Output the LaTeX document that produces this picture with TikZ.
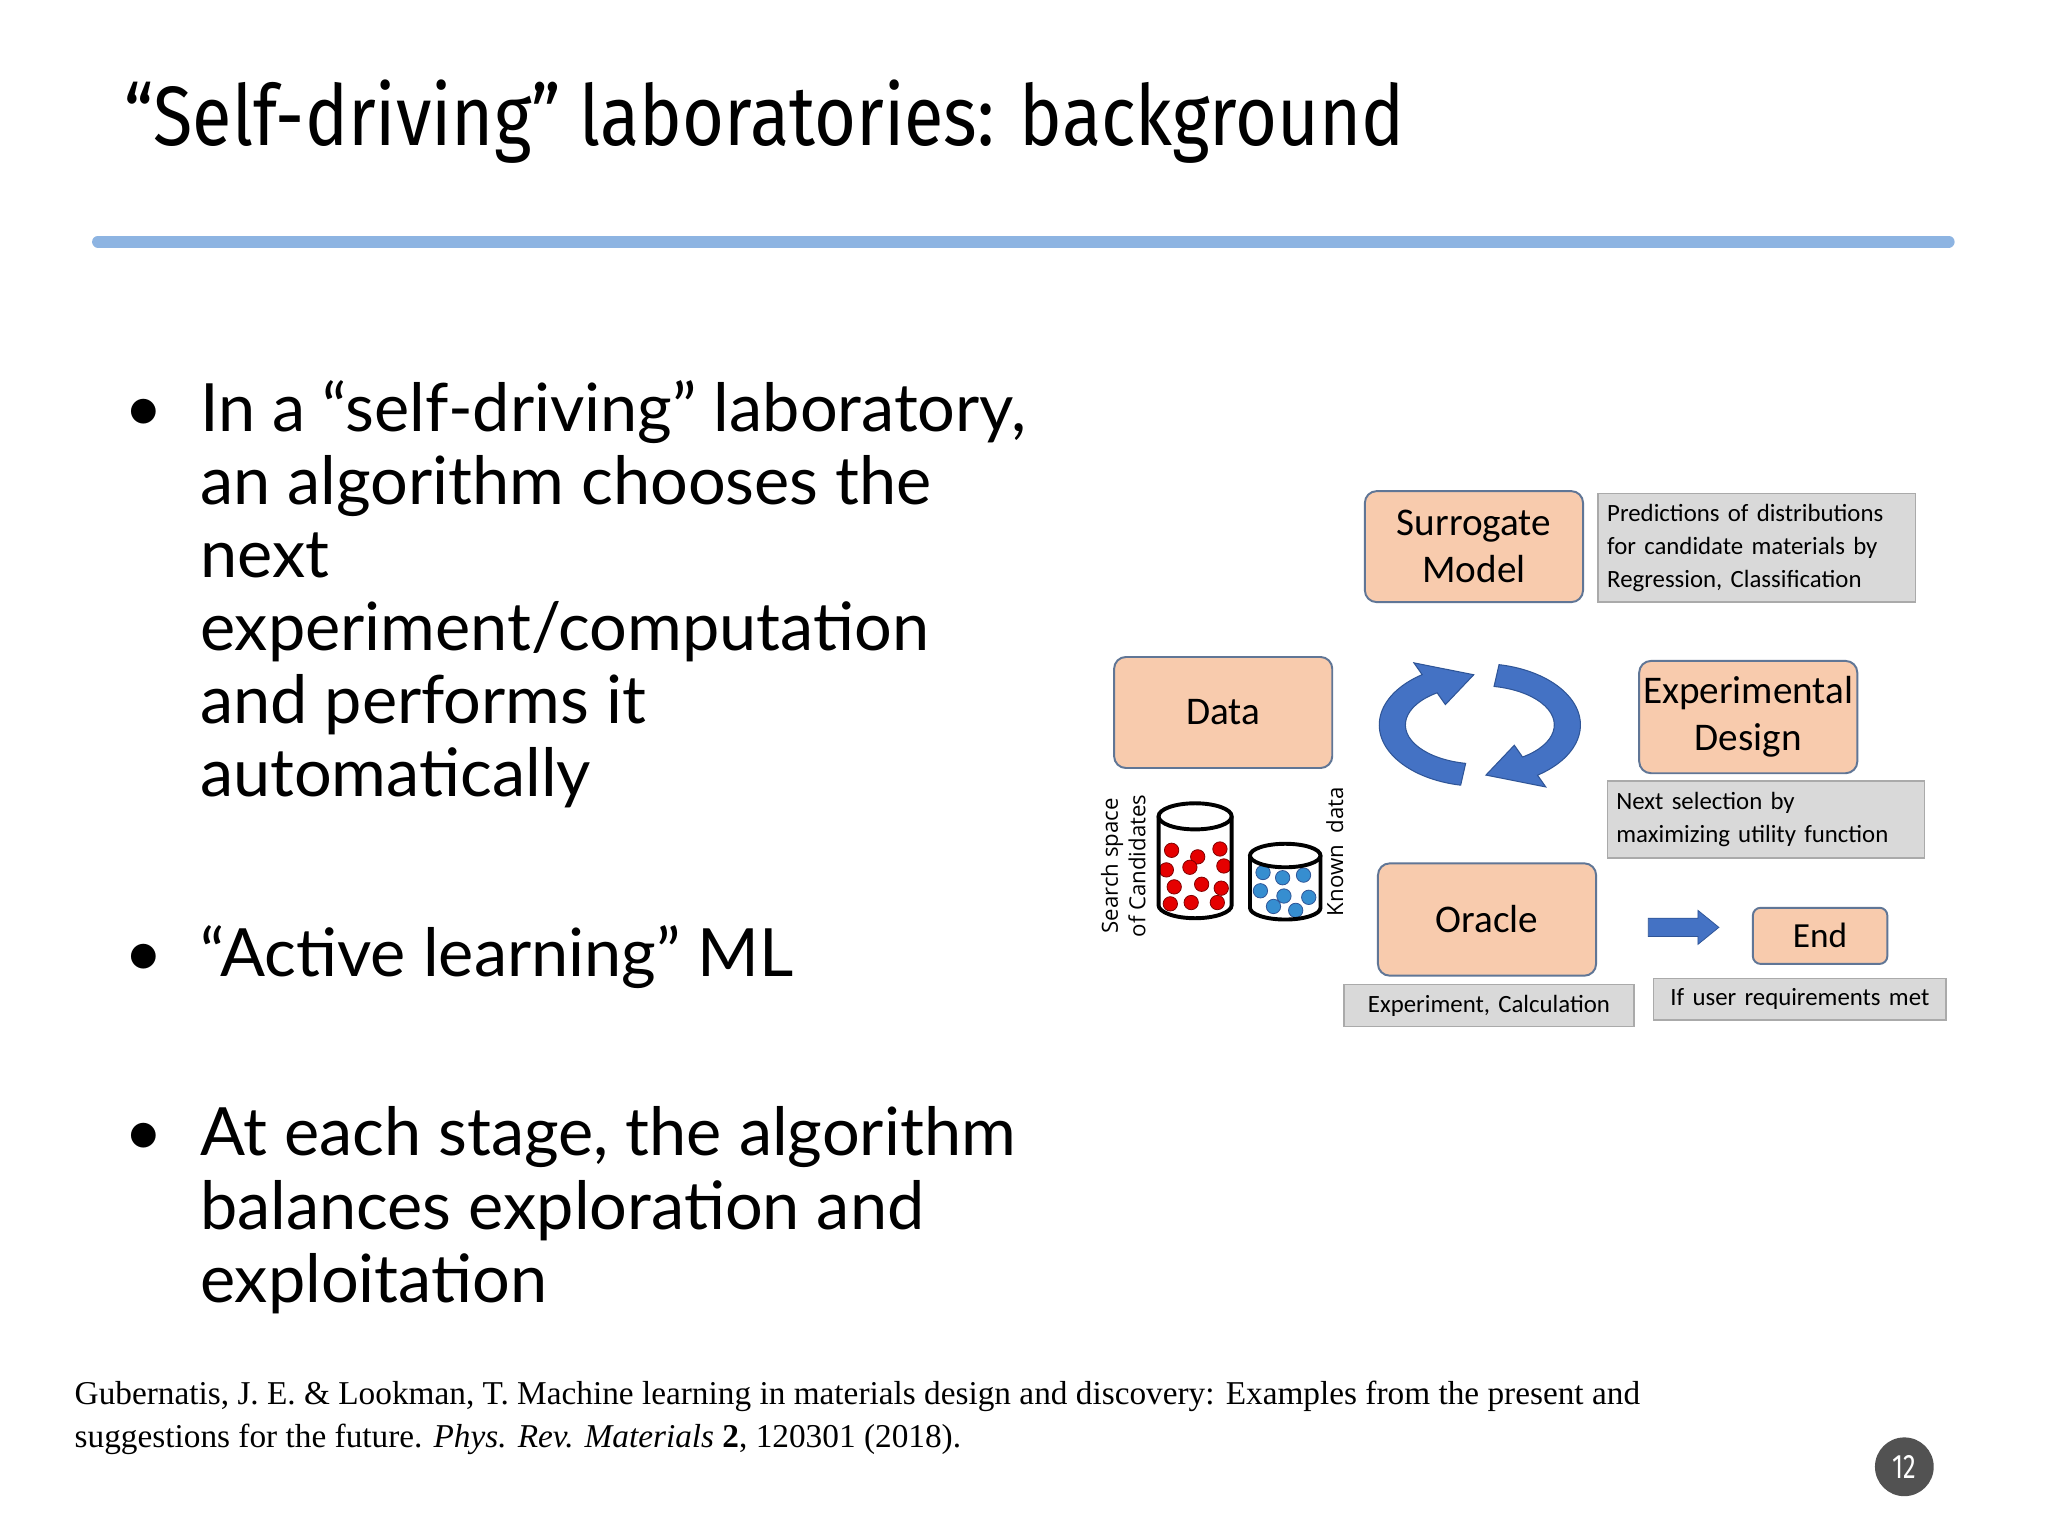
\documentclass[tikz,border=0pt]{standalone}
\usepackage{fontspec}
\usepackage{graphicx}
\setmainfont{Lato}
\newfontfamily\titlefont{Fira Sans}
\newfontfamily\calfont{Carlito}
\newfontfamily\citefont{Liberation Serif}
\newfontfamily\smallsans{Open Sans}
\usetikzlibrary{calc}
\definecolor{peach}{RGB}{248,203,173}
\definecolor{boxedge}{RGB}{96,118,150}
\definecolor{graybox}{RGB}{217,217,217}
\definecolor{grayedge}{RGB}{170,170,170}
\definecolor{linecol}{RGB}{141,180,226}
\definecolor{arrblue}{RGB}{68,114,196}
\definecolor{arrdark}{RGB}{47,85,151}
\tikzset{
  pbox/.style={draw=boxedge,line width=1.5pt,fill=peach,rounded corners=9pt,font=\calfont\fontsize{30}{36}\selectfont,align=center,inner sep=0pt},
  gbox/.style={draw=grayedge,line width=1pt,fill=graybox,font=\calfont\fontsize{19}{25}\selectfont,align=left,inner sep=0pt,text width=#1},
  bul/.style={anchor=base west,font=\fontsize{51}{56}\selectfont,inner sep=0pt},
  reddot/.style={circle,fill=red!90!black,draw=red!50!black,line width=0.6pt,inner sep=0pt,minimum size=11pt},
  bluedot/.style={circle,fill=arrblue!80!cyan,draw=arrdark,line width=0.6pt,inner sep=0pt,minimum size=11pt},
  cyl/.style={draw=black,line width=3pt},
}
\begin{document}
\begin{tikzpicture}[x=1pt,y=-1pt]
\useasboundingbox[fill=white] (0,0) rectangle (1568,1176);
% title
\node[anchor=south west,inner sep=0pt] (title) at (95,125) {\resizebox*{980pt}{64pt}{\titlefont “Self-driving” laboratories: background}};
\draw[linecol,line width=9pt,line cap=round] (75,185) coordinate (l1) -- (1492,185) coordinate (l2);
% bullets
\node[bul] (b1d) at (95,330) {•};
\node[bul] (b1) at (153,330) {\parbox[t]{700pt}{\raggedright In a “self-driving” laboratory,\\an algorithm chooses the\\next\\experiment/computation\\and performs it\\automatically}};
\node[bul] (b2d) at (95,748) {•};
\node[bul] (b2) at (153,748) {“Active learning” ML};
\node[bul] (b3d) at (95,885) {•};
\node[bul] (b3) at (153,885) {\parbox[t]{700pt}{\raggedright At each stage, the algorithm\\balances exploration and\\exploitation}};
% citation
\node[anchor=base west,inner sep=0pt,font=\citefont\fontsize{25.5}{33}\selectfont] (cite) at (57,1075) {\parbox[t]{1400pt}{\raggedright Gubernatis, J. E. \& Lookman, T. Machine learning in materials design and discovery: Examples from the present and\\suggestions for the future. \textit{Phys. Rev. Materials} \textbf{2}, 120301 (2018).}};
% page number
\node[circle,fill=black!68,minimum size=45pt,inner sep=0pt,text=white,font=\titlefont\fontsize{26}{26}\selectfont] (pg) at (1458,1123) {\scalebox{0.75}[1]{12}};
% diagram boxes
\node[pbox,minimum width=167pt,minimum height=85pt] (sur) at (1128.5,418.5) {Surrogate\\Model};
\node[gbox=243pt,minimum height=83pt,anchor=west] (pred) at (1223,419.5) {\hspace*{7pt}Predictions of distributions\\\hspace*{7pt}for candidate materials by\\\hspace*{7pt}Regression, Classification};
\node[pbox,minimum width=167pt,minimum height=85pt] (data) at (936.5,545.5) {Data};
\node[pbox,minimum width=167pt,minimum height=86pt] (exp) at (1338.5,549) {Experimental\\Design};
\node[gbox=243pt,minimum height=59pt,anchor=west] (next) at (1230,627.5) {\hspace*{7pt}Next selection by\\\hspace*{7pt}maximizing utility function};
\node[pbox,minimum width=167pt,minimum height=86pt] (ora) at (1138.5,704) {Oracle};
\node[gbox=222pt,minimum height=32pt,align=center] (calc) at (1140,770) {Experiment, Calculation};
\node[pbox,minimum width=103pt,minimum height=43pt,font=\calfont\fontsize{27}{30}\selectfont,rounded corners=6pt] (end) at (1393.5,716.5) {End};
\node[gbox=224pt,minimum height=32pt,align=center] (user) at (1378,765) {If user requirements met};
% block arrow towards End
\coordinate (arr) at (1262,710);
\fill[arrblue,draw=arrdark,line width=0.6pt] ($(arr)+(0,-7)$) -- ++(38,0) -- ++(0,-6) -- ($(arr)+(54,0)$) -- ($(arr)+(38,13)$) -- ++(0,-6) -- ($(arr)+(0,7)$) -- cycle;
% circular arrows
\coordinate (C) at (1133,555);
\fill[arrblue,draw=arrdark,line width=0.8pt]
 ($(C)+(101:77 and 47)$) arc[start angle=101,end angle=235,x radius=77,y radius=47]
 -- ($(C)+(235:88 and 58)$) -- ($(C)+(266:67 and 38.5)$) -- ($(C)+(235:46 and 19)$)
 -- ($(C)+(235:57 and 30)$) arc[start angle=235,end angle=101,x radius=57,y radius=30] -- cycle;
\fill[arrblue,draw=arrdark,line width=0.8pt]
 ($(C)+(281:77 and 47)$) arc[start angle=281,end angle=415,x radius=77,y radius=47]
 -- ($(C)+(415:88 and 58)$) -- ($(C)+(446:67 and 38.5)$) -- ($(C)+(415:46 and 19)$)
 -- ($(C)+(415:57 and 30)$) arc[start angle=415,end angle=281,x radius=57,y radius=30] -- cycle;
% cylinders
\coordinate (cy1) at (915,625);
\coordinate (cy2) at (984,655);
\node[reddot] (r1) at (897,651) {};
\node[reddot] (r2) at (917,656) {};
\node[reddot] (r3) at (934,650) {};
\node[reddot] (r4) at (893,666) {};
\node[reddot] (r5) at (911,664) {};
\node[reddot] (r6) at (937,663) {};
\node[reddot] (r7) at (899,679) {};
\node[reddot] (r8) at (920,677) {};
\node[reddot] (r9) at (935,680) {};
\node[reddot] (r10) at (896,692) {};
\node[reddot] (r11) at (912,691) {};
\node[reddot] (r12) at (932,691) {};
\node[bluedot] (u1) at (967,668) {};
\node[bluedot] (u2) at (982,672) {};
\node[bluedot] (u3) at (998,670) {};
\node[bluedot] (u4) at (965,682) {};
\node[bluedot] (u5) at (983,686) {};
\node[bluedot] (u6) at (1002,687) {};
\node[bluedot] (u7) at (975,694) {};
\node[bluedot] (u8) at (992,697) {};
\draw[cyl] (cy1) ellipse[x radius=28,y radius=10];
\draw[cyl] ($(cy1)+(-28,0)$) -- ++(0,68) arc[start angle=180,end angle=0,x radius=28,y radius=10] -- ++(0,-68);
\draw[cyl] (cy2) ellipse[x radius=27,y radius=9];
\draw[cyl] ($(cy2)+(-27,0)$) -- ++(0,40) arc[start angle=180,end angle=0,x radius=27,y radius=9] -- ++(0,-40);
\node[rotate=90,font=\smallsans\fontsize{17}{21}\selectfont,align=center,inner sep=0pt] (ss) at (860,663) {Search space\\of Candidates};
\node[rotate=90,font=\smallsans\fontsize{17}{21}\selectfont,inner sep=0pt] (kd) at (1022,652) {Known\ \ data};
\end{tikzpicture}
\end{document}
